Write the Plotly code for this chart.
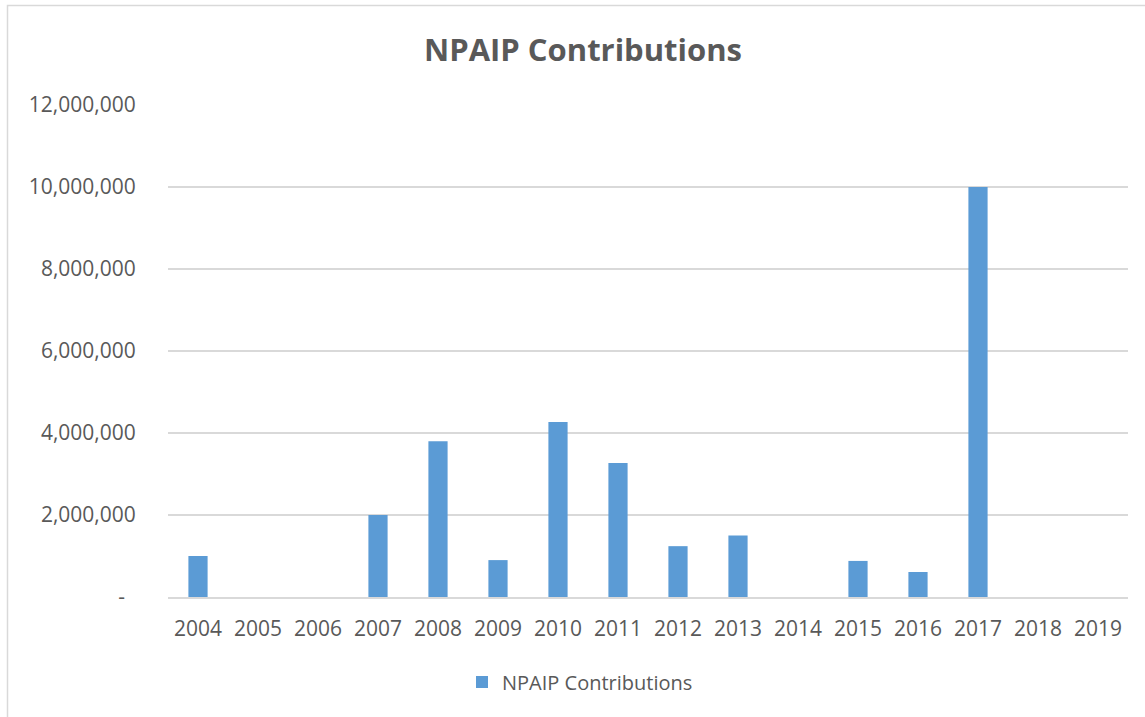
import plotly.graph_objects as go

years = ["2004", "2005", "2006", "2007", "2008", "2009", "2010", "2011",
         "2012", "2013", "2014", "2015", "2016", "2017", "2018", "2019"]
contributions = [1000000, 0, 0, 2000000, 3800000, 900000, 4270000, 3270000,
                 1240000, 1500000, 0, 880000, 610000, 10000000, 0, 0]
y_tickvals = [0, 2000000, 4000000, 6000000, 8000000, 10000000, 12000000]
y_ticktext = ["-\u00a0\u00a0", "2,000,000", "4,000,000", "6,000,000",
              "8,000,000", "10,000,000", "12,000,000"]

W, H = 1145, 717
L, R, T, B = 168, 17, 105, 120
pw, ph = W - L - R, H - T - B

def px_x(x):
    return (x - L) / pw

def px_y(y):
    return (H - B - y) / ph

font = "Open Sans, Liberation Sans, sans-serif"

fig = go.Figure()
fig.add_trace(go.Bar(
    x=years, y=contributions, name="NPAIP Contributions",
    marker=dict(color="#5B9BD5", line=dict(width=0)),
    showlegend=True,
))

fig.update_layout(
    width=W, height=H,
    margin=dict(l=L, r=R, t=T, b=B),
    paper_bgcolor="white", plot_bgcolor="white",
    bargap=0.68,
    title=dict(text="<b>NPAIP Contributions</b>", x=583 / W, xanchor="center",
               y=1 - 50 / H, yanchor="middle",
               font=dict(family=font, size=31, color="#595959")),
    font=dict(family=font, color="#595959"),
    legend=dict(orientation="h", x=px_x(580), xanchor="center",
                y=px_y(682), yanchor="middle",
                font=dict(family=font, size=20, color="#595959"),
                bgcolor="rgba(0,0,0,0)"),
    showlegend=True,
    xaxis=dict(type="category", showgrid=False, showline=True,
               linecolor="#D9D9D9", linewidth=1.5,
               ticks="outside", ticklen=12, tickcolor="rgba(0,0,0,0)",
               tickfont=dict(family=font, size=21, color="#595959")),
    yaxis=dict(range=[0, 12000000], tickvals=y_tickvals, ticktext=y_ticktext,
               showgrid=True, gridcolor="#D9D9D9", gridwidth=1.5,
               zeroline=False, showline=False,
               ticks="outside", ticklen=27, tickcolor="rgba(0,0,0,0)",
               tickfont=dict(family=font, size=21, color="#595959")),
    shapes=[dict(type="rect", xref="paper", yref="paper",
                 x0=px_x(7.5), x1=px_x(1170), y0=px_y(5.5), y1=px_y(740),
                 line=dict(color="#D9D9D9", width=1.5), fillcolor="rgba(0,0,0,0)",
                 layer="below")],
)

fig.write_html("out.html")
